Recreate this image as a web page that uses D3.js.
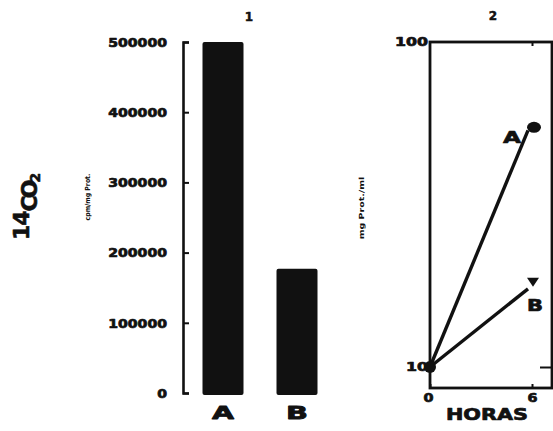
<!DOCTYPE html>
<html>
<head>
<meta charset="utf-8">
<script src="https://cdn.jsdelivr.net/npm/d3@7"></script>
<style>
  body { margin: 0; background: #fff; }
  svg { display: block; }
  text { font-family: "DejaVu Sans", sans-serif; font-weight: bold; fill: #111; }
</style>
</head>
<body>
<div id="chart"></div>
<script>
// panel 1: 14CO2 (cpm/mg Prot.)
var barCats = ["A", "B"];
var barValues = [500000, 177000];
var barTicks = [0, 100000, 200000, 300000, 400000, 500000];

// panel 2: mg Prot./ml vs HORAS
var hours = [0, 6];
var seriesA = [10, 53.5];
var seriesB = [10, 17.4];
var logTicks = [10, 100];

var W = 553, H = 431;
var ink = "#111";

var svg = d3.select("#chart").append("svg")
    .attr("width", W)
    .attr("height", H);

// stretched heavy text like the old typewriter plot
function wide(sel, perChar) {
    sel.each(function () {
        var t = d3.select(this);
        var s = t.text();
        if (s.length) t.attr("textLength", s.length * perChar).attr("lengthAdjust", "spacingAndGlyphs");
    });
}
function heavy(sel, w) {
    sel.attr("stroke", ink).attr("stroke-width", w || 0.6).attr("stroke-linejoin", "round");
}

// ---------- panel 1 ----------
var y1 = d3.scaleLinear().domain([0, 500000]).range([393, 42]);
var x1 = d3.scalePoint().domain(barCats).range([223, 297]);
var barW = 41;

svg.append("g")
    .selectAll("rect")
    .data(barCats)
    .enter().append("rect")
    .attr("x", function (d) { return x1(d) - barW / 2; })
    .attr("y", function (d, i) { return y1(barValues[i]); })
    .attr("width", barW)
    .attr("height", function (d, i) { return y1(0) + 2 - y1(barValues[i]); })
    .attr("rx", 2)
    .attr("fill", ink);

var ax1 = svg.append("g")
    .attr("transform", "translate(183,0)")
    .call(d3.axisLeft(y1).tickValues(barTicks).tickSizeInner(-6).tickSizeOuter(-6)
        .tickPadding(16).tickFormat(d3.format("d")));
ax1.select(".domain").attr("stroke", ink).attr("stroke-width", 2.6);
ax1.selectAll(".tick line").attr("stroke", ink).attr("stroke-width", 2);
ax1.selectAll(".tick text")
    .attr("font-size", 12)
    .attr("dy", "0.36em")
    .attr("font-family", "DejaVu Sans")
    .attr("font-weight", "bold")
    .attr("fill", ink)
    .call(wide, 9.8)
    .call(heavy, 0.7);

svg.append("g")
    .selectAll("text")
    .data(barCats)
    .enter().append("text")
    .attr("x", function (d) { return x1(d); })
    .attr("y", 419)
    .attr("text-anchor", "middle")
    .attr("font-size", 18)
    .text(function (d) { return d; })
    .call(wide, 22)
    .call(heavy, 0.8);

svg.append("text").attr("x", 249).attr("y", 21).attr("text-anchor", "middle")
    .attr("font-size", 12).text("1").call(heavy, 0.5);

// 14CO2 title
var ttl = svg.append("text")
    .attr("transform", "translate(37,240) rotate(-90)")
    .call(heavy, 0.6);
ttl.append("tspan").attr("dy", -8).attr("font-size", 22).attr("letter-spacing", -1).text("14");
ttl.append("tspan").attr("dy", 8).attr("font-size", 22).attr("letter-spacing", -3).text("CO");
ttl.append("tspan").attr("dy", 3).attr("font-size", 14).text("2");

svg.append("text")
    .attr("transform", "translate(90,197) rotate(-90)")
    .attr("text-anchor", "middle")
    .attr("font-size", 7)
    .attr("font-family", "DejaVu Serif")
    .text("cpm/mg Prot.")
    .call(wide, 3.9);

// ---------- panel 2 ----------
var x2 = d3.scaleLinear().domain([0, 6]).range([430, 528]);
var y2 = d3.scaleLog().domain([10, 100]).range([367, 42]);

svg.append("rect")
    .attr("x", 430).attr("y", 42)
    .attr("width", 122).attr("height", 346)
    .attr("fill", "none")
    .attr("stroke", ink)
    .attr("stroke-width", 2.8);

var ay2 = svg.append("g")
    .attr("transform", "translate(430,0)")
    .call(d3.axisLeft(y2).tickValues(logTicks).tickSize(0).tickPadding(2).tickFormat(d3.format("d")));
ay2.select(".domain").remove();
ay2.selectAll(".tick text").attr("font-size", 12).attr("font-family", "DejaVu Sans")
    .attr("font-weight", "bold").attr("fill", ink).call(wide, 11).call(heavy, 0.7);

var ayr = svg.append("g")
    .attr("transform", "translate(552,0)")
    .call(d3.axisRight(y2).tickValues([10]).tickSize(-12).tickFormat(""));
ayr.select(".domain").remove();
ayr.selectAll(".tick line").attr("stroke", ink).attr("stroke-width", 2);

// x ticks: labels at 0 and 6 h (6 h sits at x=532 on the frame)
var xt = d3.scaleLinear().domain([0, 6]).range([430, 532]);
var axb = svg.append("g")
    .attr("transform", "translate(0,388)")
    .call(d3.axisBottom(xt).tickValues(hours).tickSizeInner(-4).tickSizeOuter(0).tickPadding(5)
        .tickFormat(d3.format("d")));
axb.select(".domain").remove();
axb.selectAll(".tick line").attr("stroke", ink).attr("stroke-width", 2);
axb.selectAll(".tick text").attr("font-size", 12).attr("font-family", "DejaVu Sans")
    .attr("font-weight", "bold").attr("fill", ink).call(wide, 10).call(heavy, 0.7);
axb.selectAll(".tick").filter(function (d) { return d === 0; }).select("text").attr("dx", -2);

var axt = svg.append("g")
    .attr("transform", "translate(0,42)")
    .call(d3.axisTop(xt).tickValues([6]).tickSize(-4).tickFormat(""));
axt.select(".domain").remove();
axt.selectAll(".tick line").attr("stroke", ink).attr("stroke-width", 2);

var line = d3.line()
    .x(function (d, i) { return x2(hours[i]); })
    .y(function (d) { return y2(d); });

[seriesA, seriesB].forEach(function (s) {
    svg.append("path")
        .datum(s)
        .attr("d", line)
        .attr("fill", "none")
        .attr("stroke", ink)
        .attr("stroke-width", 3.4);
});

svg.append("circle").attr("cx", x2(hours[0])).attr("cy", y2(seriesA[0])).attr("r", 6).attr("fill", ink);
svg.append("ellipse").attr("cx", x2(hours[1]) + 6).attr("cy", y2(seriesA[1]) - 3)
    .attr("rx", 7).attr("ry", 5.5).attr("fill", ink);
svg.append("path")
    .attr("transform", "translate(" + (x2(hours[1]) + 5) + "," + (y2(seriesB[1]) - 7) + ")")
    .attr("d", "M-6,-4L6,-4L0,5Z")
    .attr("fill", ink);

svg.append("text").attr("x", x2(hours[1]) - 16).attr("y", y2(seriesA[1]) + 13)
    .attr("text-anchor", "middle").attr("font-size", 16).text("A").call(wide, 18).call(heavy, 0.7);
svg.append("text").attr("x", x2(hours[1]) + 7).attr("y", y2(seriesB[1]) + 22)
    .attr("text-anchor", "middle").attr("font-size", 16).text("B").call(wide, 16).call(heavy, 0.7);

svg.append("text").attr("x", 487).attr("y", 420).attr("text-anchor", "middle")
    .attr("font-size", 16).text("HORAS").call(wide, 16.4).call(heavy, 0.7);

svg.append("text").attr("x", 493).attr("y", 20).attr("text-anchor", "middle")
    .attr("font-size", 12).text("2").call(heavy, 0.5);

svg.append("text")
    .attr("transform", "translate(364,208) rotate(-90)")
    .attr("text-anchor", "middle")
    .attr("font-size", 7)
    .attr("font-family", "DejaVu Serif")
    .text("mg Prot./ml")
    .call(wide, 5.7);
</script>
</body>
</html>
